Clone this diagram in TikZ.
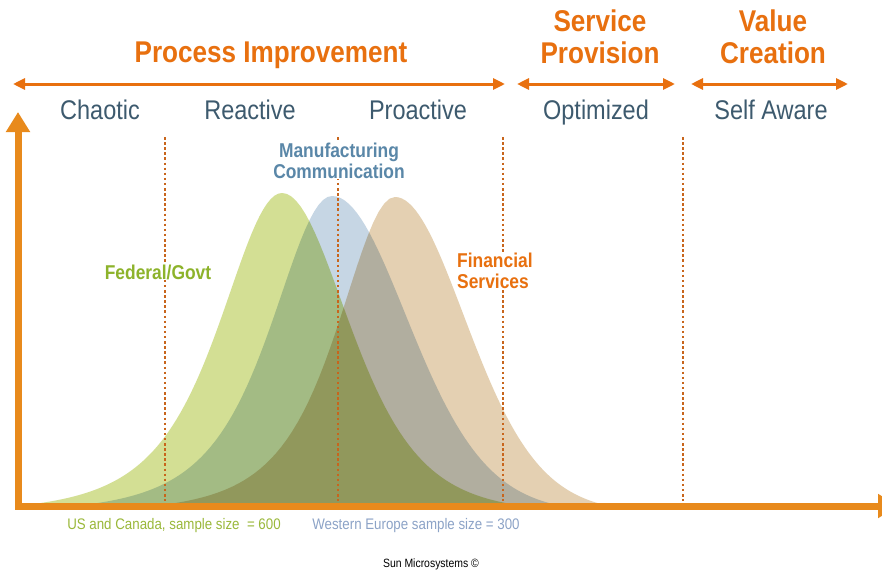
\documentclass[tikz,border=0pt]{standalone}
\usepackage{fontspec}
\setmainfont[FakeStretch=0.87]{Liberation Sans}
\usetikzlibrary{arrows.meta}

\definecolor{axisorange}{HTML}{E88A1C}
\definecolor{headorange}{HTML}{E8700F}
\definecolor{dotorange}{HTML}{C8651C}
\definecolor{stageblue}{HTML}{3D5A6E}
\definecolor{mfgblue}{HTML}{5A87A8}
\definecolor{govgreen}{HTML}{8DB32B}
\definecolor{usgreen}{HTML}{9AB83A}
\definecolor{eublue}{HTML}{8CA3C7}
\definecolor{curvegreen}{HTML}{D3DF94}
\definecolor{curveblue}{HTML}{C6D6E4}
\definecolor{curvetan}{HTML}{E4D0B2}

\newcommand{\bellcurve}[7]{%
  \fill[#1] (22,514)
    -- plot[domain=22:#2, samples=70] (\x,{514-#3/(1+((\x-#2)/#4)^2)^#5})
    -- plot[domain=#2:700, samples=90] (\x,{514-#3/(1+((\x-#2)/#6)^2)^#7})
    -- (700,514) -- cycle;}

\tikzset{
  phase/.style={font=\bfseries\fontsize{30}{32}\selectfont, text=headorange, align=center, anchor=base, inner sep=0pt},
  stage/.style={font=\fontsize{27}{30}\selectfont, text=stageblue, anchor=base, inner sep=0pt},
  sector/.style={font=\bfseries\fontsize{20}{21}\selectfont, fill=white, anchor=base, inner sep=1pt},
  sample/.style={font=\fontsize{15.3}{17}\selectfont, anchor=base, inner sep=0pt},
  span/.style={headorange, line width=3pt, {Triangle[length=12pt,width=11pt]}-{Triangle[length=12pt,width=11pt]}},
  axisline/.style={axisorange, line width=7pt, line join=miter, {Triangle[length=20pt,width=23pt]}-{Triangle[length=20pt,width=23pt]}},
  divider/.style={dotorange, line width=2.5pt, dash pattern=on 2.5pt off 2.6pt},
}

\begin{document}
\begin{tikzpicture}[x=1pt,y=-1pt]
  \useasboundingbox[fill=white] (0,0) rectangle (882,573);

  \begin{scope}[blend group=multiply]
    \clip (20,0) rectangle (882,504);
    \bellcurve{curvegreen}{282}{321}{115}{2}{155}{3}
    \bellcurve{curveblue}{332}{318}{112}{2}{300}{8}
    \bellcurve{curvetan}{395}{317}{105}{2}{280}{8}
  \end{scope}

  \foreach \name/\xpos in {chaos/165, react/338, proact/503, optim/683} {
    \coordinate (\name top) at (\xpos,137);
    \coordinate (\name foot) at (\xpos,501);
    \draw[divider] (\name top) -- (\name foot);
  }

  \coordinate (ytip) at (18,112);
  \coordinate (xtip) at (898,506);
  \draw[axisline] (ytip) |- (xtip);

  \coordinate (improveL) at (13,84);
  \coordinate (improveR) at (505,84);
  \coordinate (provideL) at (517,84);
  \coordinate (provideR) at (675,84);
  \coordinate (createL) at (691,84);
  \coordinate (createR) at (848,84);
  \draw[span] (improveL) -- (improveR);
  \draw[span] (provideL) -- (provideR);
  \draw[span] (createL) -- (createR);

  \node[phase] (improve) at (271,62) {Process Improvement};
  \node[phase] (provide) at (600,63) {Service\\Provision};
  \node[phase] (create) at (773,63) {Value\\Creation};

  \node[stage] (chaotic) at (100,119) {Chaotic};
  \node[stage] (reactive) at (250,119) {Reactive};
  \node[stage] (proactive) at (418,119) {Proactive};
  \node[stage] (optimized) at (596,119) {Optimized};
  \node[stage] (selfaware) at (771,119) {Self Aware};

  \node[sector, text=mfgblue, align=center] (mfg) at (339,178) {Manufacturing\\Communication};
  \node[sector, text=govgreen] (gov) at (158,279) {Federal/Govt};
  \node[sector, text=headorange, align=left, anchor=base west] (fin) at (456,288) {Financial\\Services};

  \node[sample, text=usgreen] (us) at (174,529) {US and Canada, sample size \ = 600};
  \node[sample, text=eublue] (eu) at (416,529) {Western Europe sample size = 300};
  \node[sample, font=\fontsize{12}{13}\selectfont] (sun) at (431,567) {Sun Microsystems ©};
\end{tikzpicture}
\end{document}
